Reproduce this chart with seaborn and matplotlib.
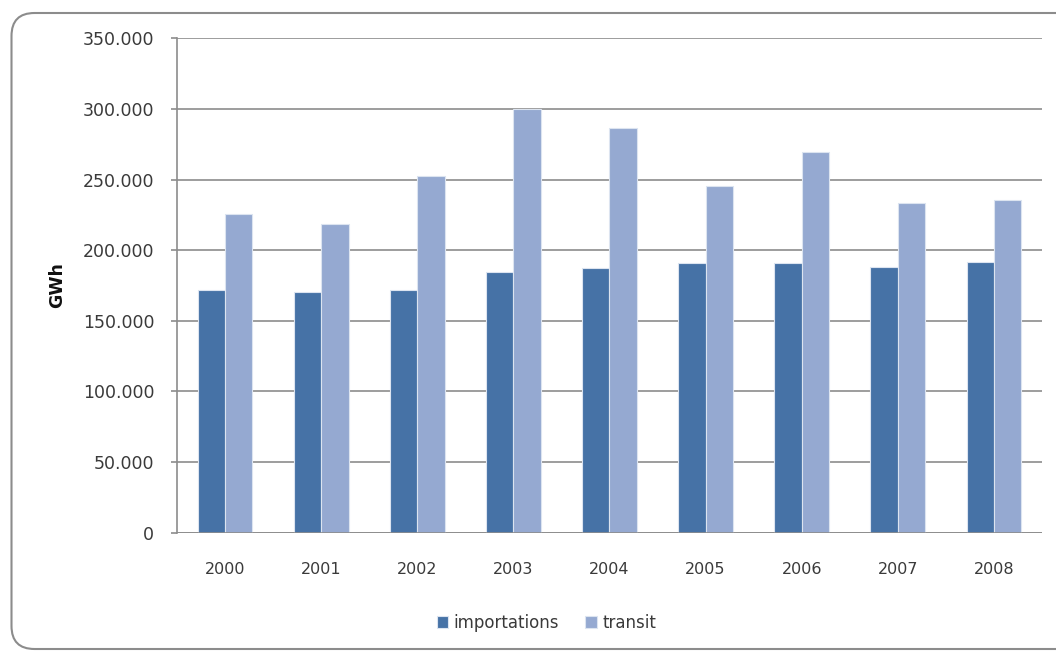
import matplotlib
matplotlib.use("Agg")
import matplotlib.pyplot as plt
from matplotlib.patches import FancyBboxPatch
from matplotlib.ticker import FuncFormatter
import seaborn as sns
import pandas as pd

years = ["2000", "2001", "2002", "2003", "2004", "2005", "2006", "2007", "2008"]
importations = [172000, 170400, 172000, 184800, 187400, 191200, 191200, 188400, 191900]
transit = [225500, 218400, 252800, 299800, 286400, 245500, 269400, 233700, 235600]
series_names = ["importations", "transit"]
colors = ["#4672A6", "#95A9D1"]

df = pd.DataFrame({
    "year": years * 2,
    "value": importations + transit,
    "series": [series_names[0]] * len(years) + [series_names[1]] * len(years),
})

sns.set_theme(style="white")
plt.rcParams["font.family"] = ["DejaVu Sans"]

fig = plt.figure(figsize=(10.56, 6.51), dpi=100)
ax = fig.add_axes([0.1676, 0.182, 0.8191, 0.7589])

sns.barplot(data=df, x="year", y="value", hue="series", palette=colors,
            saturation=1, width=0.57, ax=ax, edgecolor="#DCE4F0",
            linewidth=0.8, legend=True)

ax.set_ylim(0, 350000)
ax.set_yticks(range(0, 350001, 50000))
ax.yaxis.set_major_formatter(FuncFormatter(lambda v, p: f"{int(v):,}".replace(",", ".")))
ax.grid(axis="y", color="#8C8C8C", linewidth=1.2)
ax.set_axisbelow(True)
for s in ["top", "right", "bottom"]:
    ax.spines[s].set_visible(False)
ax.spines["left"].set_color("#8C8C8C")
ax.spines["left"].set_linewidth(1.2)
ax.axhline(0, color="#8C8C8C", linewidth=1.2, zorder=3)

ax.tick_params(axis="y", left=True, length=4.3, width=1.2, color="#8C8C8C",
               pad=12, labelsize=12.5, labelcolor="#3A3A3A")
ax.tick_params(axis="x", bottom=False, pad=15.5, labelsize=11.5, labelcolor="#3A3A3A")
ax.set_xlabel("")
ax.set_ylabel("GWh", fontsize=12.5, fontweight="bold", color="#111111")
ax.yaxis.set_label_coords(-0.128, 0.5)

leg = ax.legend(loc="center", bbox_to_anchor=(0.427, -0.183), ncol=2,
                frameon=False, fontsize=12, handlelength=0.7, handleheight=0.7,
                handletextpad=0.3, columnspacing=1.6)
for t in leg.get_texts():
    t.set_color("#3A3A3A")

border = FancyBboxPatch((0.115, 0.02), 10.72, 6.36,
                        boxstyle="round,pad=0,rounding_size=0.23",
                        transform=fig.dpi_scale_trans, facecolor="none",
                        edgecolor="#8C8C8C", linewidth=1.5, clip_on=False)
fig.patches.append(border)

fig.savefig("out.png", dpi=100)
